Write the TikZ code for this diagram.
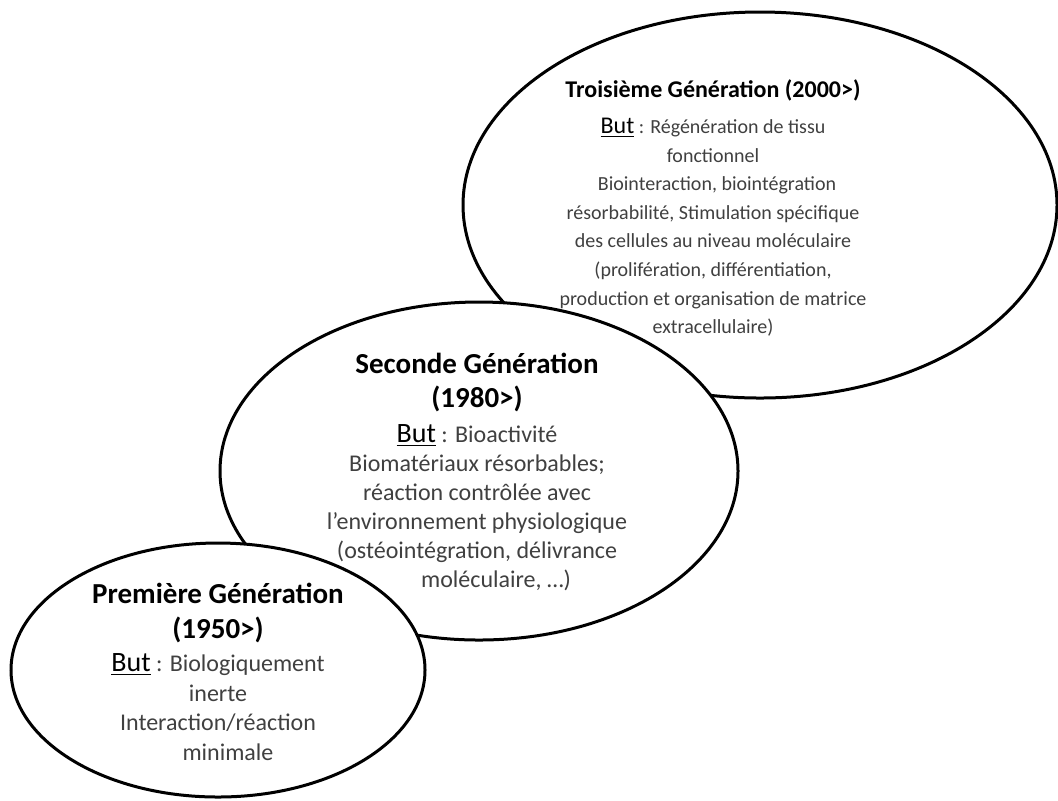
\documentclass[tikz,border=0pt]{standalone}
\usepackage{fontspec}
\setmainfont{Carlito}
\usepackage{tikz}

\definecolor{bodygray}{gray}{0.25}

\tikzset{
  gen/.style={draw, line width=1.5pt, fill=white},
  gentext/.style={align=center, inner sep=0pt, text=bodygray},
}

\newcommand{\gentitle}[2]{{\fontsize{#1}{#1}\selectfont\bfseries\color{black}#2}}
\newcommand{\butword}[1]{{\fontsize{#1}{#1}\selectfont\color{black}\underline{But}}}

\begin{document}
\begin{tikzpicture}

    \useasboundingbox (0,0) rectangle (529pt,-400pt);

    % troisieme generation
    \begin{scope}[xshift=380pt, yshift=-102.5pt]
      \draw[gen] (0,0) ellipse [x radius=148.5pt, y radius=96.5pt];
    \end{scope}

    % seconde generation
    \begin{scope}[xshift=239.5pt, yshift=-235.5pt]
      \draw[gen] (0,0) ellipse [x radius=129.5pt, y radius=84.5pt];
    \end{scope}

    % premiere generation
    \begin{scope}[xshift=109pt, yshift=-335pt]
      \draw[gen] (0,0) ellipse [x radius=103.5pt, y radius=63.5pt];
    \end{scope}

    \node[gentext, font=\fontsize{10pt}{14.3pt}\selectfont] (third) at (356.5pt,-104pt)
      {\gentitle{12pt}{Troisième Génération (2000>)}\\[3.7pt]
       \butword{12pt} : Régénération de tissu\\
       fonctionnel\\
       \hspace*{4pt}Biointeraction, biointégration\\
       résorbabilité, Stimulation spécifique\\
       des cellules au niveau moléculaire\\
       (prolifération, différentiation,\\
       production et organisation de matrice\\
       extracellulaire)};

    \node[gentext, font=\fontsize{12pt}{14.5pt}\selectfont] (second) at (238.5pt,-236pt)
      {\gentitle{14.5pt}{Seconde Génération}\\[2.5pt]
       \gentitle{14.5pt}{(1980>)}\\[3pt]
       \butword{14pt} : Bioactivité\\
       Biomatériaux résorbables;\\
       réaction contrôlée avec\\
       l’environnement physiologique\\
       (ostéointégration, délivrance\\
       \hspace*{19pt}moléculaire, …)};

    \node[gentext, font=\fontsize{12pt}{14.8pt}\selectfont] (first) at (109pt,-336pt)
      {\gentitle{14.5pt}{Première Génération}\\[2.7pt]
       \gentitle{14.5pt}{(1950>)}\\[1.7pt]
       \butword{14pt} : Biologiquement\\
       inerte\\
       Interaction/réaction\\
       \hspace*{10pt}minimale};

  \end{tikzpicture}
\end{document}
